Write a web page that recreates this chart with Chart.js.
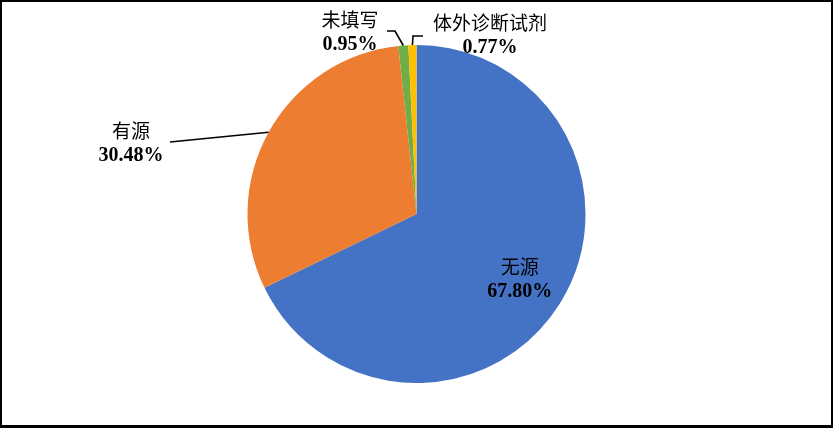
<!DOCTYPE html>
<html>
<head>
<meta charset="utf-8">
<script src="https://cdn.jsdelivr.net/npm/chart.js@4/dist/chart.umd.min.js"></script>
<style>
  html, body { margin: 0; padding: 0; background: #fff; }
  #wrap { position: relative; width: 833px; height: 428px; }
  #frame { position: absolute; left: 0; top: 0; width: 833px; height: 428px; box-sizing: border-box;
           border-left: 2px solid #000; border-top: 2px solid #000; border-right: 2px solid #000; border-bottom: 3px solid #000; pointer-events: none; }
</style>
</head>
<body>
<div id="wrap">
  <canvas id="c" width="833" height="428"></canvas>
  <div id="frame"></div>
</div>
<script>
const categories = ['无源', '有源', '未填写', '体外诊断试剂'];
const percentages = [67.80, 30.48, 0.95, 0.77];
const percentLabels = ['67.80%', '30.48%', '0.95%', '0.77%'];
const sliceColors = ['#4472C4', '#ED7D31', '#70AD47', '#FFC000'];

// label layout: text centre positions; leader: list of points after the slice edge point
const labelLayout = [
  { inside: 0.72, leader: null },
  { x: 131, y: 131, leader: [[170, 142]] },
  { x: 350, y: 20, leader: [[395, 31], [387, 31]] },
  { x: 490, y: 23, leader: [[413, 36], [423, 36]] }
];

const labelPlugin = {
  id: 'pieLabels',
  afterDraw(chart) {
    const ctx = chart.ctx;
    const meta = chart.getDatasetMeta(0);
    ctx.save();
    meta.data.forEach((arc, i) => {
      const p = arc.getProps(['x', 'y', 'startAngle', 'endAngle', 'outerRadius'], true);
      const mid = (p.startAngle + p.endAngle) / 2;
      const L = labelLayout[i];
      let tx, ty;
      if (L.inside) {
        tx = p.x + Math.cos(mid) * p.outerRadius * L.inside;
        ty = p.y + Math.sin(mid) * p.outerRadius * L.inside - 12;
      } else {
        tx = L.x; ty = L.y;
      }
      if (L.leader) {
        ctx.beginPath();
        ctx.strokeStyle = '#000';
        ctx.lineWidth = 1.6;
        ctx.moveTo(p.x + Math.cos(mid) * p.outerRadius, p.y + Math.sin(mid) * p.outerRadius);
        L.leader.forEach(pt => ctx.lineTo(pt[0], pt[1]));
        ctx.stroke();
      }
      ctx.fillStyle = '#000';
      ctx.textAlign = 'center';
      ctx.textBaseline = 'middle';
      ctx.font = '19px "Noto Sans CJK SC", "Liberation Serif", serif';
      ctx.fillText(categories[i], tx, ty);
      ctx.font = 'bold 20px "Liberation Serif", "Times New Roman", serif';
      ctx.fillText(percentLabels[i], tx, ty + 25);
    });
    ctx.restore();
  }
};

new Chart(document.getElementById('c'), {
  type: 'pie',
  data: {
    labels: categories,
    datasets: [{
      data: percentages,
      backgroundColor: sliceColors,
      borderWidth: 0
    }]
  },
  options: {
    responsive: false,
    animation: false,
    layout: { padding: { top: 45, bottom: 45, left: 0, right: 0 } },
    plugins: { legend: { display: false }, tooltip: { enabled: false } }
  },
  plugins: [labelPlugin]
});
</script>
</body>
</html>
